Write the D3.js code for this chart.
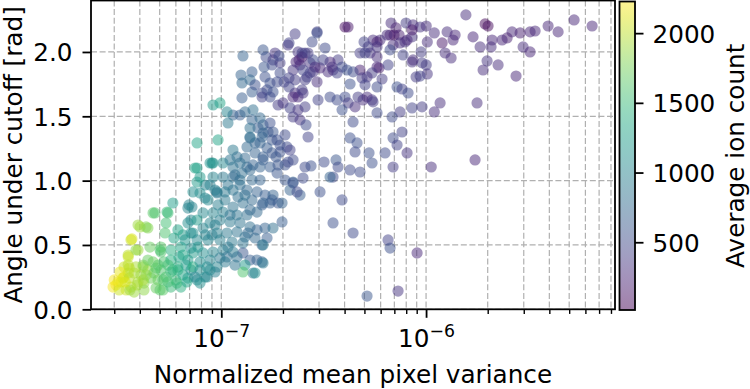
<!DOCTYPE html>
<html>
<head>
<meta charset="utf-8">
<script src="https://cdn.jsdelivr.net/npm/d3@7/dist/d3.min.js"></script>
<style>
  body { margin: 0; background: #fff; }
  svg { display: block; }
  svg text { font-family: "DejaVu Sans", sans-serif; }
</style>
</head>
<body>
<div id="wrapper"></div>
<script>
// [normalized mean pixel variance, angle under cutoff (rad), average ion count]
const yellowGreen = [
  [3.06e-8,0.189,2200],[2.96e-8,0.173,2200],[3.24e-8,0.212,2100],[3.17e-8,0.150,2050],[3.35e-8,0.251,2100],
  [3.55e-8,0.243,2000],[3.62e-8,0.173,2000],[3.43e-8,0.150,2050],[3.75e-8,0.282,1950],[3.92e-8,0.212,1950],
  [4.05e-8,0.267,1900],[4.19e-8,0.204,1850],[4.38e-8,0.306,1850],[4.15e-8,0.329,1900],[3.83e-8,0.329,1950],
  [3.55e-8,0.321,2000],[3.35e-8,0.329,2050],[4.53e-8,0.243,1750],[4.69e-8,0.282,1700],[4.91e-8,0.228,1700],
  [5.07e-8,0.306,1600],[5.37e-8,0.251,1600],[5.67e-8,0.290,1500],[6.00e-8,0.228,1500],[4.91e-8,0.344,1600],
  [4.64e-8,0.368,1700],[5.25e-8,0.368,1600],[5.67e-8,0.383,1400],[6.14e-8,0.329,1400],[6.50e-8,0.267,1300],
  [6.87e-8,0.243,1250],[6.21e-8,0.407,1300],[6.87e-8,0.383,1200],[7.11e-8,0.306,1100],[5.07e-8,0.445,1600],
  [5.67e-8,0.461,1400],[6.35e-8,0.484,1300],[7.11e-8,0.476,1100],[5.87e-8,0.554,1300],[6.50e-8,0.578,1200],
  [7.11e-8,0.593,1100],[5.07e-8,0.484,1650],[5.37e-8,0.671,1550],[3.92e-8,0.655,1900],[4.29e-8,0.640,1800],
  [3.62e-8,0.539,2050],[3.51e-8,0.422,2000],[3.83e-8,0.461,1850],[4.64e-8,0.749,1650],[5.49e-8,0.749,1550],
  [5.80e-8,0.826,1250],[6.95e-8,0.811,1000],[6.87e-8,0.671,1100],[6.14e-8,0.617,1300],[7.11e-8,0.694,1050],
  [3.75e-8,0.134,1900],[4.19e-8,0.150,1850],[4.80e-8,0.166,1700],[5.19e-8,0.150,1650],[5.67e-8,0.173,1500],
  [6.35e-8,0.173,1400],[3.00e-8,0.228,2200],[3.13e-8,0.212,2150],[3.31e-8,0.243,2100],[3.51e-8,0.282,2000],
  [3.51e-8,0.407,2050],[3.66e-8,0.547,2100],[4.01e-8,0.640,1900],[4.38e-8,0.632,1800],[3.92e-8,0.461,1900],
  [4.15e-8,0.228,1950],[3.58e-8,0.150,1900],[3.88e-8,0.189,1950],[3.51e-8,0.344,2000],[3.39e-8,0.212,2100],
  [4.15e-8,0.344,1800],[4.38e-8,0.383,1700],[4.74e-8,0.749,1600],[5.43e-8,0.756,1500],[5.31e-8,0.593,1600],
  [4.48e-8,0.484,1700],[5.02e-8,0.461,1600],[5.02e-8,0.150,1650],[6.07e-8,0.204,1500],[5.49e-8,0.212,1550],
  [6.14e-8,0.306,1400],[6.79e-8,0.212,1300],[7.61e-8,0.228,1100],[8.52e-8,0.251,1000],[3.20e-8,0.290,2150],
  [4.29e-8,0.267,1850],[4.80e-8,0.321,1650],[5.19e-8,0.228,1600],[5.49e-8,0.344,1550],[5.80e-8,0.306,1450],
  [6.72e-8,0.344,1250],[6.50e-8,0.422,1300]
];

const tealCore = [
  [7.87e-8,0.904,1100],[7.19e-8,0.795,1000],[8.33e-8,0.865,1000],[9.53e-8,0.904,900],[9.11e-8,1.028,1000],
  [1.019e-7,1.028,900],[1.140e-7,1.028,800],[1.234e-7,0.966,800],[1.140e-7,0.927,850],[1.042e-7,0.850,900],
  [1.140e-7,0.795,850],[1.276e-7,0.826,800],[1.412e-7,0.850,750],[1.494e-7,0.912,700],[1.635e-7,0.888,650],
  [1.789e-7,0.888,700],[1.730e-7,0.826,650],[1.893e-7,0.826,600],[1.581e-7,0.811,650],[1.494e-7,0.756,750],
  [1.335e-7,0.733,800],[1.193e-7,0.733,850],[1.019e-7,0.756,950],[9.11e-8,0.749,1000],[8.14e-8,0.749,1050],
  [7.61e-8,0.694,1200],[7.27e-8,0.593,1100],[8.14e-8,0.632,1000],[8.81e-8,0.671,1000],[9.85e-8,0.694,950],
  [1.103e-7,0.679,900],[1.234e-7,0.671,850],[1.381e-7,0.640,800],[1.494e-7,0.617,700],[1.350e-7,0.593,750],
  [1.193e-7,0.601,850],[1.066e-7,0.593,900],[9.53e-8,0.593,950],[8.33e-8,0.578,1000],[7.61e-8,0.539,1050],
  [8.62e-8,0.539,1000],[9.85e-8,0.539,950],[1.128e-7,0.523,900],[1.276e-7,0.515,850],[1.635e-7,0.632,700],
  [1.672e-7,0.554,650],[1.581e-7,0.500,700],[7.27e-8,0.438,1200],[8.14e-8,0.438,1100],[9.11e-8,0.445,1000],
  [1.019e-7,0.461,950],[1.140e-7,0.445,900],[1.276e-7,0.438,600],[1.381e-7,0.383,650],[1.494e-7,0.383,700],
  [1.581e-7,0.368,700],[1.305e-7,0.344,1200],[1.428e-7,0.282,900],[1.276e-7,0.290,1600],[7.27e-8,0.329,1400],
  [7.87e-8,0.306,1100],[8.52e-8,0.329,1100],[9.53e-8,0.329,1000],[9.32e-8,0.290,950],[7.44e-8,0.251,1000],
  [8.33e-8,0.251,1050],[1.461e-7,0.282,1100],[1.599e-7,0.360,900],[1.599e-7,0.500,900],[1.066e-7,0.407,800],
  [1.193e-7,0.407,800],[1.789e-7,0.632,800],[1.980e-7,0.679,650],[1.599e-7,0.826,700],[1.769e-7,0.850,650],
  [1.980e-7,0.826,700],[2.166e-7,0.927,700],[2.241e-7,0.989,700],[2.424e-7,0.888,650],[7.61e-8,1.098,1250],
  [9.01e-8,1.137,950],[1.019e-7,1.137,1050],[9.53e-8,0.912,900],[8.62e-8,0.850,1050],[6.87e-8,0.787,1000],
  [8.81e-8,0.966,950],[1.078e-7,0.966,850],[9.64e-8,0.811,950],[1.206e-7,0.873,800],[1.335e-7,0.927,750],
  [1.078e-7,0.484,900],[8.81e-8,0.383,1000],[7.87e-8,0.368,1100],[9.85e-8,0.399,900],[9.01e-8,0.578,950],
  [7.69e-8,0.484,1150],[6.65e-8,0.539,1150],[7.87e-8,0.204,1100]
];

const denseCore = [
  [9.32e-8,0.927,950],[8.33e-8,0.966,1000],[1.042e-7,0.912,900],[1.305e-7,0.888,800],[1.381e-7,0.772,750],
  [1.103e-7,0.733,850],[9.32e-8,0.655,950],[1.305e-7,0.562,800],[1.461e-7,0.554,750],[1.042e-7,0.368,900],
  [1.166e-7,0.344,850],[8.81e-8,0.306,1050],[1.234e-7,1.005,800],[1.381e-7,1.083,750],[1.305e-7,1.176,750],
  [1.461e-7,1.293,700],[1.691e-7,1.378,600],[2.048e-7,1.355,500],[2.241e-7,1.161,500],[2.048e-7,1.122,550]
];

const blueBand = [
  [1.140e-7,1.510,700],[1.078e-7,1.448,900],[1.234e-7,1.510,650],[1.305e-7,1.534,750],[1.428e-7,1.550,800],
  [1.412e-7,1.472,700],[1.546e-7,1.487,750],[1.511e-7,1.409,650],[1.599e-7,1.433,700],[1.599e-7,1.370,700],
  [1.730e-7,1.448,550],[1.789e-7,1.378,600],[1.769e-7,1.316,600],[1.872e-7,1.316,550],[1.936e-7,1.277,550],
  [2.094e-7,1.262,500],[1.936e-7,1.223,550],[1.851e-7,1.184,600],[1.672e-7,1.254,650],[1.546e-7,1.293,700],
  [1.381e-7,1.332,750],[1.335e-7,1.262,750],[1.461e-7,1.215,700],[1.599e-7,1.184,650],[1.546e-7,1.106,700],
  [1.730e-7,1.106,650],[1.872e-7,1.059,600],[2.048e-7,1.005,600],[2.241e-7,0.982,550],[2.344e-7,0.912,500],
  [2.507e-7,1.020,500],[9.85e-8,1.604,1300],[9.11e-8,1.588,1200],[1.066e-7,1.534,1000],[7.61e-8,1.293,1300],
  [9.64e-8,1.316,1300],[9.11e-8,1.137,1200],[8.81e-8,1.137,1150],[7.44e-8,1.098,1300],[7.87e-8,1.028,1200],
  [1.140e-7,1.238,900],[1.193e-7,1.184,800],[1.103e-7,1.161,850],[1.140e-7,1.106,850],[1.166e-7,1.044,750],
  [1.262e-7,1.059,800],[1.335e-7,1.106,750],[1.412e-7,1.005,750],[1.546e-7,1.005,700],[1.276e-7,1.969,700],
  [1.248e-7,1.821,700],[1.412e-7,1.845,650],[1.381e-7,1.783,750],[1.262e-7,1.759,750],[1.412e-7,1.689,650],
  [1.262e-7,1.643,650],[1.461e-7,1.744,550],[1.581e-7,1.681,500],[1.672e-7,1.705,500],[1.581e-7,1.650,450],
  [1.789e-7,1.689,550],[1.730e-7,1.650,500],[1.893e-7,1.588,400],[2.002e-7,1.604,350],[2.166e-7,1.565,450],
  [2.370e-7,1.550,350],[2.564e-7,1.573,400],[2.241e-7,1.495,400],[2.424e-7,1.472,350],[2.652e-7,1.339,450],
  [1.381e-7,1.409,800],[1.381e-7,1.339,800],[1.581e-7,1.339,700],[1.234e-7,1.137,800],[1.428e-7,1.122,700],
  [1.599e-7,1.161,650],[1.769e-7,1.215,600],[2.166e-7,1.238,450],[2.118e-7,1.145,500],[1.893e-7,1.122,600],
  [2.564e-7,1.106,500],[1.635e-7,1.806,550],[1.730e-7,1.759,550],[7.27e-8,0.912,1100],[7.61e-8,0.989,1200]
];

const purpleCloud = [
  [1.654e-7,1.961,500],[1.617e-7,1.883,600],[1.789e-7,1.938,400],[1.769e-7,1.899,500],[1.936e-7,1.915,400],
  [1.830e-7,1.992,350],[1.599e-7,2.016,600],[1.914e-7,1.969,500],[2.118e-7,2.054,350],[2.142e-7,2.070,450],
  [2.292e-7,2.140,400],[2.935e-7,2.156,400],[2.370e-7,2.000,350],[2.564e-7,1.992,400],[2.479e-7,1.961,150],
  [2.397e-7,1.938,200],[2.424e-7,1.899,300],[2.318e-7,1.922,250],[2.713e-7,1.915,350],[2.806e-7,1.845,350],
  [3.211e-7,2.031,500],[3.716e-7,1.938,400],[3.397e-7,1.922,250],[3.513e-7,1.860,350],[3.035e-7,1.876,250],
  [2.622e-7,1.806,450],[2.935e-7,1.767,300],[2.241e-7,1.860,350],[2.142e-7,1.798,450],[1.936e-7,1.837,500],
  [2.025e-7,1.767,450],[1.872e-7,1.767,500],[2.292e-7,1.783,400],[2.292e-7,1.681,300],[2.370e-7,1.650,250],
  [2.479e-7,1.705,400],[2.241e-7,1.650,250],[2.142e-7,1.728,450],[4.021e-7,2.194,100],[4.159e-7,2.194,150],
  [1.565e-6,2.288,300],[1.942e-6,2.218,50],[2.008e-6,2.202,80],[5.283e-6,2.249,250],[6.469e-6,2.202,250],
  [3.944e-6,2.202,250],[4.414e-6,2.156,250],[3.407e-6,2.163,250],[3.221e-6,2.156,250],[2.879e-6,2.148,200],
  [2.630e-6,2.156,250],[2.487e-6,2.109,200],[2.351e-6,2.093,250],[2.101e-6,2.093,250],[1.696e-6,2.117,250],
  [1.836e-6,2.039,300],[2.077e-6,2.039,300],[2.978e-6,2.039,300],[3.221e-6,2.000,250],[1.986e-6,1.930,350],
  [1.899e-6,1.860,300],[2.248e-6,1.899,300],[2.751e-6,1.813,250],[1.774e-6,1.604,300],[1.171e-6,1.604,300],
  [1.097e-6,1.534,300],[9.561e-7,1.573,400],[8.543e-7,1.565,450],[7.464e-7,1.534,400],[6.823e-7,1.495,500],
  [7.634e-7,1.378,450],[6.900e-7,1.332,500],[7.217e-7,1.277,450],[8.076e-7,1.215,350],[6.306e-7,1.215,500],
  [6.900e-7,1.106,400],[5.448e-7,1.137,550],[5.267e-7,1.215,550],[4.602e-7,1.293,550],[4.400e-7,1.456,500],
  [5.763e-7,1.526,500],[5.448e-7,1.627,350],[4.923e-7,1.627,300],[4.500e-7,1.573,300],[4.021e-7,1.650,500],
  [4.159e-7,1.604,400],[3.675e-7,1.627,500],[3.397e-7,1.650,500],[3.887e-7,1.550,550],[4.254e-7,1.751,550],
  [2.968e-7,1.627,450],[2.593e-7,1.433,500],[7.217e-7,1.728,550],[7.634e-7,1.712,450],[8.167e-7,1.681,500],
  [9.561e-7,1.915,400],[1.002e-6,1.899,400],[1.014e-6,1.829,350],[9.348e-7,1.813,450],[8.937e-7,1.806,400],
  [8.543e-7,1.922,350],[8.640e-7,1.938,300],[7.721e-7,1.977,450],[9.454e-7,2.000,400],[8.543e-7,2.117,350],
  [7.896e-7,2.078,350],[1.014e-6,2.078,300],[1.097e-6,2.148,300],[1.198e-6,2.070,150],[1.267e-6,2.156,300],
  [1.355e-6,2.093,250],[1.386e-6,2.132,250],[1.239e-6,1.992,300],[1.325e-6,1.953,300],[9.348e-7,2.194,350],
  [1.002e-6,2.202,300],[7.985e-7,2.225,400],[8.640e-7,2.210,300],[8.543e-7,2.171,150],[6.746e-7,2.225,300],
  [6.977e-7,2.132,100],[6.671e-7,2.132,150],[7.381e-7,2.132,200],[7.136e-7,2.187,200],[8.076e-7,2.093,250],
  [7.464e-7,2.070,300],[6.900e-7,2.054,300],[6.449e-7,2.132,300],[5.961e-7,2.093,300],[5.509e-7,2.093,300],
  [5.763e-7,2.078,200],[4.979e-7,2.078,450],[5.208e-7,2.039,400],[4.760e-7,1.992,400],[5.327e-7,1.992,350],
  [5.763e-7,1.961,300],[5.763e-7,1.883,250],[5.894e-7,1.876,200],[6.522e-7,1.899,450],[6.096e-7,1.790,400],
  [5.448e-7,1.837,400],[5.150e-7,1.806,350],[4.760e-7,1.860,200],[4.868e-7,1.798,400],[4.400e-7,1.845,500],
  [4.112e-7,1.860,550],[3.887e-7,1.883,500],[3.675e-7,1.837,450],[3.474e-7,1.883,350],[3.321e-7,1.845,300],
  [3.140e-7,1.938,450],[2.806e-7,1.938,500],[2.870e-7,1.883,300],[2.713e-7,1.837,400],[2.564e-7,1.783,400],
  [2.479e-7,1.992,450],[2.652e-7,1.992,400],[2.774e-7,2.078,500],[2.935e-7,2.148,550],[2.507e-7,1.860,450],
  [5.035e-7,1.992,450],[5.763e-7,2.039,350],[6.671e-7,2.016,500],[4.254e-7,1.332,550],[4.500e-7,1.223,500],
  [4.760e-7,1.067,500],[2.743e-7,1.114,550],[3.175e-7,1.145,500],[3.633e-7,1.161,600],[3.716e-7,1.106,500],
  [3.035e-7,0.912,550],[2.507e-7,1.681,350],[4.654e-7,1.650,400],[5.150e-7,1.650,300],[5.509e-7,1.612,400],
  [5.035e-7,1.744,450],[5.763e-7,1.728,500]
];

const sparseOutliers = [
  [3.513e-7,1.028,500],[3.887e-7,0.850,500],[4.254e-7,1.083,500],[3.513e-7,0.671,550],[4.400e-7,0.593,500],
  [3.397e-7,1.028,700],[1.060e-6,1.106,300],[1.735e-6,1.161,250],[6.522e-7,0.539,450],[6.671e-7,0.476,550],
  [9.038e-7,0.438,250],[5.150e-7,0.103,600],[7.299e-7,0.142,350]
];

const xDomain = [2.31e-8, 8.37e-6];
const yDomain = [0, 2.4];
const colorDomain = [14, 2227];
const xMajorTicks = [1e-7, 1e-6];
const xTickExponents = ["−7", "−6"];
const yTicks = [0, 0.5, 1.0, 1.5, 2.0];
const colorTicks = [500, 1000, 1500, 2000];

const dataset = [...yellowGreen, ...tealCore, ...denseCore, ...blueBand, ...purpleCloud, ...sparseOutliers];
const xAccessor = d => d[0];
const yAccessor = d => d[1];
const colorAccessor = d => d[2];

const font = "'DejaVu Sans', sans-serif";
const fontSize = 24.7;

const dimensions = {
  width: 750,
  height: 389,
  margin: { top: 0.5, right: 135, bottom: 79.7, left: 91 }
};
dimensions.boundedWidth = dimensions.width - dimensions.margin.left - dimensions.margin.right;
dimensions.boundedHeight = dimensions.height - dimensions.margin.top - dimensions.margin.bottom;

const xScale = d3.scaleLog().domain(xDomain).range([0, dimensions.boundedWidth]);
const yScale = d3.scaleLinear().domain(yDomain).range([dimensions.boundedHeight, 0]);
const colorScale = d3.scaleSequential(d3.interpolateViridis).domain(colorDomain);

const wrapper = d3.select("#wrapper")
  .append("svg")
  .attr("width", dimensions.width)
  .attr("height", dimensions.height);

const bounds = wrapper.append("g")
  .attr("transform", `translate(${dimensions.margin.left}, ${dimensions.margin.top})`);

const styleText = sel => sel
  .attr("fill", "black")
  .style("font-family", font)
  .style("font-size", `${fontSize}px`);

// grid: every log tick vertically, major ticks horizontally
const xGridTicks = xScale.ticks();
bounds.append("g").selectAll("line")
  .data(xGridTicks)
  .join("line")
  .attr("x1", d => xScale(d)).attr("x2", d => xScale(d))
  .attr("y1", 0).attr("y2", dimensions.boundedHeight)
  .attr("stroke", "#b0b0b0").attr("stroke-width", 1.2).attr("stroke-dasharray", "6,2.6");

bounds.append("g").selectAll("line")
  .data(yTicks)
  .join("line")
  .attr("x1", 0).attr("x2", dimensions.boundedWidth)
  .attr("y1", d => yScale(d)).attr("y2", d => yScale(d))
  .attr("stroke", "#b0b0b0").attr("stroke-width", 1.2).attr("stroke-dasharray", "6,2.6");

// dots
bounds.append("g").selectAll("circle")
  .data(dataset)
  .join("circle")
  .attr("cx", d => xScale(xAccessor(d)))
  .attr("cy", d => yScale(yAccessor(d)))
  .attr("r", 5.6)
  .attr("fill", d => colorScale(colorAccessor(d)))
  .attr("fill-opacity", 0.5);

// axes
const styleAxis = g => {
  g.attr("font-family", null).attr("font-size", null);
  g.select(".domain").remove();
  g.selectAll(".tick line").attr("stroke", "black");
  g.selectAll("text").call(styleText);
};

const xMinorTicks = xGridTicks.filter(d => !xMajorTicks.some(m => Math.abs(m - d) / m < 1e-6));

const xMinorAxis = bounds.append("g")
  .attr("transform", `translate(0, ${dimensions.boundedHeight})`)
  .call(d3.axisBottom(xScale).tickValues(xMinorTicks).tickSize(4.6).tickFormat(""))
  .call(styleAxis);
xMinorAxis.selectAll(".tick line").attr("stroke-width", 1.4);

const xAxis = bounds.append("g")
  .attr("transform", `translate(0, ${dimensions.boundedHeight})`)
  .call(d3.axisBottom(xScale).tickValues(xMajorTicks).tickSize(8.5).tickFormat(""))
  .call(styleAxis);
xAxis.selectAll(".tick line").attr("stroke-width", 1.8);
xAxis.selectAll(".tick text").remove();

xAxis.selectAll(".tick").each(function(d, i) {
  const t = d3.select(this).append("text")
    .attr("y", 38)
    .attr("text-anchor", "middle")
    .call(styleText);
  t.append("tspan").text("10");
  t.append("tspan").attr("dy", -10).style("font-size", "17.3px").text(xTickExponents[i]);
});

bounds.append("text")
  .attr("x", dimensions.boundedWidth / 2)
  .attr("y", dimensions.boundedHeight + 74)
  .attr("text-anchor", "middle")
  .call(styleText)
  .text("Normalized mean pixel variance");

const yAxis = bounds.append("g")
  .call(d3.axisLeft(yScale).tickValues(yTicks).tickSize(8.5).tickPadding(10).tickFormat(d3.format(".1f")))
  .call(styleAxis);
yAxis.selectAll(".tick line").attr("stroke-width", 1.8);
yAxis.selectAll(".tick text").attr("dy", "0.36em");

wrapper.append("text")
  .attr("transform", `translate(21.5, ${dimensions.margin.top + dimensions.boundedHeight / 2}) rotate(-90)`)
  .attr("text-anchor", "middle")
  .call(styleText)
  .text("Angle under cutoff [rad]");

// frame
bounds.append("rect")
  .attr("width", dimensions.boundedWidth)
  .attr("height", dimensions.boundedHeight)
  .attr("fill", "none")
  .attr("stroke", "black")
  .attr("stroke-width", 1.8);

// colorbar
const bar = { x: 619.5, y: 1.5, width: 15.5, height: 308.5 };
const barScale = d3.scaleLinear().domain(colorDomain).range([bar.y + bar.height, bar.y]);

const gradient = wrapper.append("defs").append("linearGradient")
  .attr("id", "viridis-bar")
  .attr("x1", 0).attr("y1", 1).attr("x2", 0).attr("y2", 0);
gradient.selectAll("stop")
  .data(d3.range(0, 1.0001, 0.05))
  .join("stop")
  .attr("offset", d => d)
  .attr("stop-color", d => d3.interpolateViridis(d))
  .attr("stop-opacity", 0.5);

wrapper.append("rect")
  .attr("x", bar.x).attr("y", bar.y)
  .attr("width", bar.width).attr("height", bar.height)
  .attr("fill", "url(#viridis-bar)")
  .attr("stroke", "black")
  .attr("stroke-width", 1.8);

const colorAxis = wrapper.append("g")
  .attr("transform", `translate(${bar.x + bar.width}, 0)`)
  .call(d3.axisRight(barScale).tickValues(colorTicks).tickSize(8.5).tickPadding(9).tickFormat(d3.format("d")))
  .call(styleAxis);
colorAxis.selectAll(".tick line").attr("stroke-width", 1.8);
colorAxis.selectAll(".tick text").attr("dy", "0.36em");

wrapper.append("text")
  .attr("transform", `translate(744, ${bar.y + bar.height / 2}) rotate(-90)`)
  .attr("text-anchor", "middle")
  .call(styleText)
  .text("Average ion count");
</script>
</body>
</html>
